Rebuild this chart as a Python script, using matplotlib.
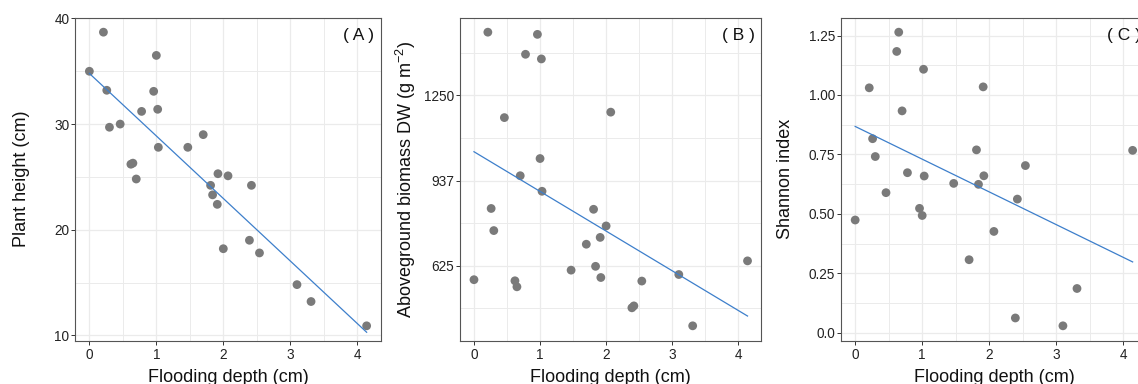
import numpy as np
import matplotlib
matplotlib.use("Agg")
import matplotlib.pyplot as plt
from matplotlib.ticker import FixedLocator

plt.rcParams['font.family'] = ['Liberation Sans', 'DejaVu Sans']
plt.rcParams['mathtext.fontset'] = 'custom'
plt.rcParams['mathtext.rm'] = 'Liberation Sans'
plt.rcParams['mathtext.it'] = 'Liberation Sans:italic'

# ---- data ----
flood_depth = [0.00, 0.21, 0.26, 0.30, 0.46, 0.62, 0.65, 0.70, 0.78, 0.96,
               1.00, 1.02, 1.03, 1.47, 1.70, 1.81, 1.84, 1.91, 1.92, 2.00,
               2.07, 2.39, 2.42, 2.54, 3.10, 3.31, 4.14]

plant_height = [35.0, 38.7, 33.2, 29.7, 30.0, 26.2, 26.3, 24.8, 31.2, 33.1,
                36.5, 31.4, 27.8, 27.8, 29.0, 24.2, 23.3, 22.4, 25.3, 18.2,
                25.1, 19.0, 24.2, 17.8, 14.8, 13.2, 10.9]

biomass = [574, 1481, 835, 754, 1168, 570, 548, 955, 1400, 1473,
           1018, 1383, 898, 609, 704, 832, 623, 729, 582, 771,
           1188, 471, 478, 569, 593, 405, 643]

shannon = [0.474, 1.030, 0.816, 0.741, 0.589, 1.183, 1.264, 0.933, 0.673, 0.523,
           0.493, 1.108, 0.659, 0.628, 0.307, 0.769, 0.624, 1.034, 0.660, np.nan,
           0.426, 0.062, 0.562, 0.703, 0.029, 0.186, 0.767]

panel_tags = ['( A )', '( B )', '( C )']
y_labels = ['Plant height (cm)', 'Aboveground biomass DW (g m$^{-2}$)', 'Shannon index']
x_label = 'Flooding depth (cm)'
x_ticks = [0, 1, 2, 3, 4]
y_ticks = [[10, 20, 30, 40], [625, 937.5, 1250], [0.0, 0.25, 0.5, 0.75, 1.0, 1.25]]
y_ticklabels = [['10', '20', '30', '40'], ['625', '937', '1250'],
                ['0.0', '0.25', '0.50', '0.75', '1.00', '1.25']]

# ---- figure ----
W, H = 1138, 384
fig = plt.figure(figsize=(W / 100, H / 100), dpi=100)

bottom_px, top_px = 340.5, 17.5
boxes = [(75.5, 380.5), (460.3, 761.2), (841.3, 1146.5)]
label_center_px = [21.7, 406.0, 786.0]

point_color = '#7A7A7A'
line_color = '#3D7FCB'
spine_color = '#555555'
grid_color = '#EBEBEB'
tick_color = '#333333'

series = [plant_height, biomass, shannon]

for i, (l, r) in enumerate(boxes):
    ax = fig.add_axes([l / W, 1 - bottom_px / H, (r - l) / W, (bottom_px - top_px) / H])
    x = np.array(flood_depth, dtype=float)
    y = np.array(series[i], dtype=float)
    m = ~np.isnan(y)
    x, y = x[m], y[m]

    ax.scatter(x, y, s=40, color=point_color, edgecolors='none', zorder=3)
    slope, intercept = np.polyfit(x, y, 1)
    xs = np.array([x.min(), x.max()])
    ax.plot(xs, intercept + slope * xs, color=line_color, lw=0.9, zorder=4)

    xall = np.array(flood_depth, dtype=float)
    xspan = xall.max() - xall.min()
    ax.set_xlim(xall.min() - 0.05 * xspan, xall.max() + 0.05 * xspan)
    yspan = y.max() - y.min()
    ax.set_ylim(y.min() - 0.05 * yspan, y.max() + 0.05 * yspan)

    ax.set_xticks(x_ticks)
    ax.set_xticklabels([str(t) for t in x_ticks])
    ax.xaxis.set_minor_locator(FixedLocator([t + 0.5 for t in x_ticks]))
    ax.set_yticks(y_ticks[i])
    ax.set_yticklabels(y_ticklabels[i])
    step = y_ticks[i][1] - y_ticks[i][0]
    ax.yaxis.set_minor_locator(FixedLocator(
        [y_ticks[i][0] - step / 2] + [t + step / 2 for t in y_ticks[i]]))

    ax.grid(which='major', color=grid_color, lw=0.9, zorder=0)
    ax.grid(which='minor', color=grid_color, lw=0.7, zorder=0)
    ax.set_axisbelow(True)

    ax.tick_params(which='major', length=3.2, width=0.7, color=tick_color,
                   labelsize=9.8, labelcolor='#222222')
    ax.tick_params(axis='y', pad=1.2)
    ax.tick_params(axis='x', pad=2.5)
    ax.tick_params(which='minor', length=0)
    for s in ax.spines.values():
        s.set_color(spine_color)
        s.set_linewidth(0.8)

    ax.set_ylabel(y_labels[i], fontsize=13, color='#111111', va='center')
    ax.yaxis.set_label_coords((label_center_px[i] - l) / (r - l), 0.5)
    ax.set_xlabel(x_label, fontsize=13, color='#111111', va='baseline')
    ax.xaxis.set_label_coords(0.5, -0.128)

    ax.text(0.98, 0.945, panel_tags[i], transform=ax.transAxes, ha='right',
            va='center', fontsize=12.5, color='#111111')

fig.savefig('out.png', dpi=100)
